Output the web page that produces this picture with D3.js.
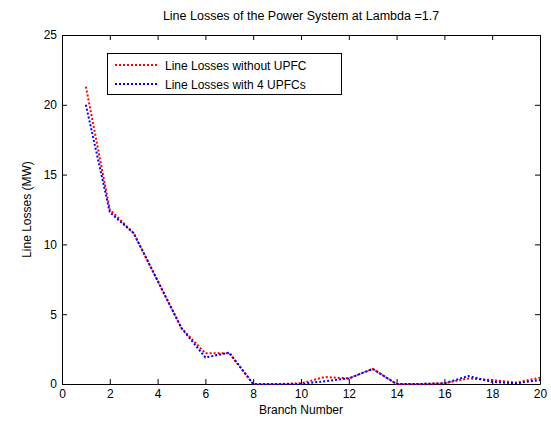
<!DOCTYPE html>
<html><head><meta charset="utf-8">
<script src="https://cdn.jsdelivr.net/npm/d3@7"></script>
<style>body{margin:0;background:#fff}text{font-family:"Liberation Sans",Arial,sans-serif}</style>
</head><body><svg id="c" width="551" height="421"></svg>
<script>
const branches = [1,2,3,4,5,6,7,8,9,10,11,12,13,14,15,16,17,18,19,20];
const lossWithout = [21.3,12.5,10.8,7.4,4.0,2.2,2.2,0,0,0.05,0.5,0.4,1.08,0,0,0.05,0.4,0.28,0.1,0.45];
const lossWith    = [20.0,12.3,10.8,7.4,4.0,1.9,2.25,0,0,0,0.2,0.4,1.08,0,0,0.05,0.57,0.15,0.05,0.28];
const xTicks = [0,2,4,6,8,10,12,14,16,18,20];
const yTicks = [0,5,10,15,20,25];
const seriesNames = ["Line Losses without UPFC","Line Losses with 4 UPFCs"];
const seriesColors = ["#ff0000","#0000ff"];

const svg = d3.select("#c");
const L=62,R=540,T=35,B=384;
const x = d3.scaleLinear().domain([0,20]).range([L,R]);
const y = d3.scaleLinear().domain([0,25]).range([B,T]);

svg.append("rect").attr("width",551).attr("height",421).attr("fill","#fff");

const tl=5;
svg.append("g").attr("transform",`translate(0,${B})`)
  .call(d3.axisBottom(x).tickValues(xTicks).tickSizeInner(-tl).tickSizeOuter(0).tickPadding(5));
svg.append("g").attr("transform",`translate(0,${T})`)
  .call(d3.axisTop(x).tickValues(xTicks).tickSizeInner(-tl).tickSizeOuter(0).tickFormat(""));
svg.append("g").attr("transform",`translate(${L},0)`)
  .call(d3.axisLeft(y).tickValues(yTicks).tickSizeInner(-tl).tickSizeOuter(0).tickPadding(5));
svg.append("g").attr("transform",`translate(${R},0)`)
  .call(d3.axisRight(y).tickValues(yTicks).tickSizeInner(-tl).tickSizeOuter(0).tickFormat(""));
svg.selectAll(".domain").attr("stroke","#000").attr("stroke-width",1);
svg.selectAll(".tick line").attr("stroke","#000");
svg.selectAll(".tick text").attr("font-size",12).attr("fill","#000").attr("font-family","Liberation Sans, Arial, sans-serif");

const line = d3.line().x((d,i)=>x(branches[i])).y(d=>y(d));
[lossWithout,lossWith].forEach((s,k)=>{
  svg.append("path").datum(s).attr("d",line).attr("fill","none")
    .attr("stroke",seriesColors[k]).attr("stroke-width",2).attr("stroke-dasharray","2,2");
});

svg.append("text").attr("x",(L+R)/2).attr("y",20).attr("text-anchor","middle").attr("font-size",12.5).text("Line Losses of the Power System at Lambda =1.7");
svg.append("text").attr("x",(L+R)/2).attr("y",414).attr("text-anchor","middle").attr("font-size",12).text("Branch Number");
svg.append("text").attr("transform",`translate(31,${(T+B)/2}) rotate(-90)`).attr("text-anchor","middle").attr("font-size",12).text("Line Losses (MW)");

const lg = svg.append("g");
lg.append("rect").attr("x",107.5).attr("y",53.5).attr("width",234).attr("height",41).attr("fill","#fff").attr("stroke","#000");
seriesNames.forEach((n,k)=>{
  const yy = 65 + k*19;
  lg.append("line").attr("x1",115).attr("x2",158).attr("y1",yy).attr("y2",yy)
    .attr("stroke",seriesColors[k]).attr("stroke-width",2).attr("stroke-dasharray","2,2");
  lg.append("text").attr("x",165).attr("y",yy+4.5).attr("font-size",12).text(n);
});
</script></body></html>
